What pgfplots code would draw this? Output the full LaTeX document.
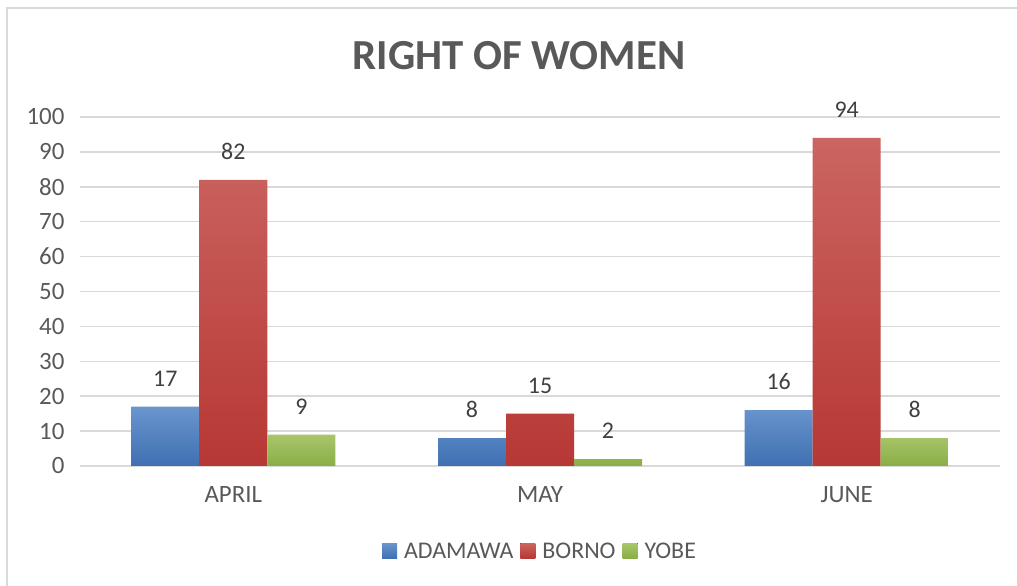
\documentclass[border=0pt]{standalone}
\usepackage{fontspec}
\setmainfont{Carlito}
\usepackage{pgfplots}
\pgfplotsset{compat=1.18}
\definecolor{tickgray}{HTML}{595959}
\definecolor{lblgray}{HTML}{404040}
\definecolor{gridgray}{HTML}{D9D9D9}
\definecolor{ttlgray}{HTML}{595959}
\definecolor{blueT}{HTML}{6A95CD}
\definecolor{blueB}{HTML}{3F70B2}
\definecolor{redT}{HTML}{CB6561}
\definecolor{redB}{HTML}{B73834}
\definecolor{greenT}{HTML}{A8C66A}
\definecolor{greenB}{HTML}{8AAE47}
\begin{document}
\begin{tikzpicture}[x=1bp,y=1bp]
\path[use as bounding box] (0,0) rectangle (1017,586);
\draw[gridgray,line width=2bp] (7,0) -- (7,578) -- (1017,578);
\node[font=\fontsize{43}{50}\selectfont\bfseries,text=ttlgray] at (519,530) {RIGHT OF WOMEN};
\begin{axis}[
  at={(80bp,120bp)}, anchor=south west,
  scale only axis, width=920bp, height=349bp,
  xmin=-0.5, xmax=2.5, ymin=0, ymax=100,
  ybar=0pt, bar width=68bp,
  xtick={0,1,2}, xticklabels={APRIL,MAY,JUNE},
  ytick={0,10,...,100},
  ymajorgrids, grid style={gridgray,line width=1.5bp},
  axis line style={draw=none},
  major tick length=0pt,
  /pgf/number format/assume math mode=true,
  tick label style={font=\fontsize{25}{29}\selectfont,text=tickgray},
  yticklabel style={xshift=-12bp},
  xticklabel style={yshift=-17bp},
  nodes near coords,
  every node near coord/.append style={font=\fontsize{24}{28}\selectfont,text=lblgray,inner sep=0pt,anchor=south,yshift=20bp},
  legend style={at={(0.5,-0.244)},anchor=center,draw=none,font=\fontsize{24}{28}\selectfont,text=tickgray,legend columns=3,/tikz/every odd column/.append style={column sep=5bp},/tikz/every even column/.append style={column sep=5bp}},
  legend image code/.code={\fill[#1] (0bp,-7bp) rectangle (15bp,8bp);},
  clip=false,
]
\addplot[draw=none,top color=blueT,bottom color=blueB] coordinates {(0,17) (1,8) (2,16)};
\addplot[draw=none,top color=redT,bottom color=redB] coordinates {(0,82) (1,15) (2,94)};
\addplot[draw=none,top color=greenT,bottom color=greenB] coordinates {(0,9) (1,2) (2,8)};
\legend{ADAMAWA,BORNO,YOBE}
\end{axis}
\end{tikzpicture}
\end{document}
